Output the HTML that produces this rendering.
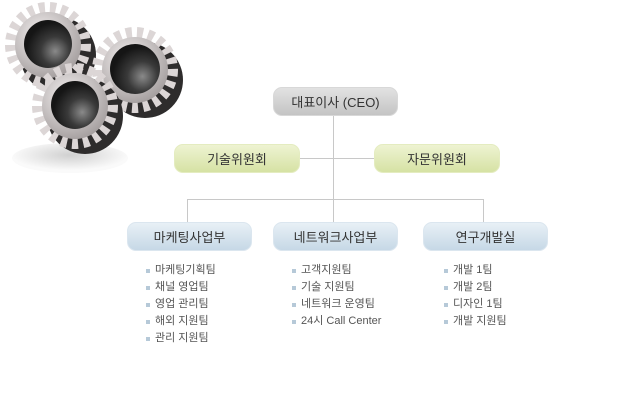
<!DOCTYPE html>
<html><head><meta charset="utf-8"><style>
html,body{margin:0;padding:0;background:#fff;width:618px;height:400px;overflow:hidden;position:relative;font-family:"Liberation Sans","Noto Sans CJK KR",sans-serif}
.b{position:absolute;height:29px;border-radius:9px;text-align:center;line-height:29px;font-size:13px;color:#333;box-sizing:border-box}
.ceo{background:linear-gradient(#e2e2e2,#c4c4c4);border:1px solid #d8d8d8}
.com{background:linear-gradient(#eef3d2,#d6e2a4);border:1px solid #e4ecc0}
.dep{background:linear-gradient(#e8f0f6,#c6d8e6);border:1px solid #dbe6ef}
.l{position:absolute;background:#c8c8c8}
ul{position:absolute;margin:0;padding:0;list-style:none;font-size:11px;color:#555}
li{height:17px;line-height:17px;position:relative;padding-left:9px}
li:before{content:"";position:absolute;left:0;top:7px;width:4px;height:4px;background:#b6c9d8}
</style></head><body>
<svg width="190" height="180" style="position:absolute;left:0;top:0">
<defs>
<radialGradient id="g" cx="40%" cy="35%" r="70%"><stop offset="0" stop-color="#f6f2f2"/><stop offset="1" stop-color="#a29c9c"/></radialGradient>
<radialGradient id="h" cx="65%" cy="65%" r="60%"><stop offset="0" stop-color="#8a8a8a"/><stop offset="0.5" stop-color="#3a3a3a"/><stop offset="1" stop-color="#151515"/></radialGradient>
<radialGradient id="s" cx="50%" cy="40%" r="50%"><stop offset="0" stop-color="#d0d0d0"/><stop offset="1" stop-color="#fafafa"/></radialGradient>
</defs>
<ellipse cx="70" cy="158" rx="58" ry="15" fill="url(#s)"/>
<g>
<circle cx="58" cy="55" r="38" fill="#2e2c2c"/>
<circle cx="48" cy="45" r="37" fill="none" stroke="#dcd6d6" stroke-width="12" stroke-dasharray="6 5"/>
<circle cx="48" cy="45" r="33" fill="url(#g)"/>
<circle cx="48" cy="44" r="24" fill="url(#h)"/>
</g>
<g>
<circle cx="145" cy="80" r="38" fill="#2e2c2c"/>
<circle cx="135" cy="70" r="37" fill="none" stroke="#dcd6d6" stroke-width="12" stroke-dasharray="6 5"/>
<circle cx="135" cy="70" r="33" fill="url(#g)"/>
<circle cx="135" cy="69" r="25" fill="url(#h)"/>
</g>
<g>
<circle cx="85" cy="116" r="38" fill="#2e2c2c"/>
<circle cx="75" cy="106" r="37" fill="none" stroke="#dcd6d6" stroke-width="12" stroke-dasharray="6 5"/>
<circle cx="75" cy="106" r="33" fill="url(#g)"/>
<circle cx="75" cy="105" r="24" fill="url(#h)"/>
</g>
</svg>
<div class="l" style="left:333px;top:115px;width:1px;height:84px"></div>
<div class="l" style="left:300px;top:158px;width:74px;height:1px"></div>
<div class="l" style="left:187px;top:199px;width:297px;height:1px"></div>
<div class="l" style="left:187px;top:199px;width:1px;height:23px"></div>
<div class="l" style="left:483px;top:199px;width:1px;height:23px"></div>
<div class="l" style="left:333px;top:199px;width:1px;height:23px"></div>
<div class="b ceo" style="left:273px;top:87px;width:125px">대표이사 (CEO)</div>
<div class="b com" style="left:174px;top:144px;width:126px">기술위원회</div>
<div class="b com" style="left:374px;top:144px;width:126px">자문위원회</div>
<div class="b dep" style="left:127px;top:222px;width:125px">마케팅사업부</div>
<div class="b dep" style="left:273px;top:222px;width:125px">네트워크사업부</div>
<div class="b dep" style="left:423px;top:222px;width:125px">연구개발실</div>
<ul style="left:146px;top:262px"><li>마케팅기획팀</li><li>채널 영업팀</li><li>영업 관리팀</li><li>해외 지원팀</li><li>관리 지원팀</li></ul>
<ul style="left:292px;top:262px"><li>고객지원팀</li><li>기술 지원팀</li><li>네트워크 운영팀</li><li>24시 Call Center</li></ul>
<ul style="left:444px;top:262px"><li>개발 1팀</li><li>개발 2팀</li><li>디자인 1팀</li><li>개발 지원팀</li></ul>
</body></html>
